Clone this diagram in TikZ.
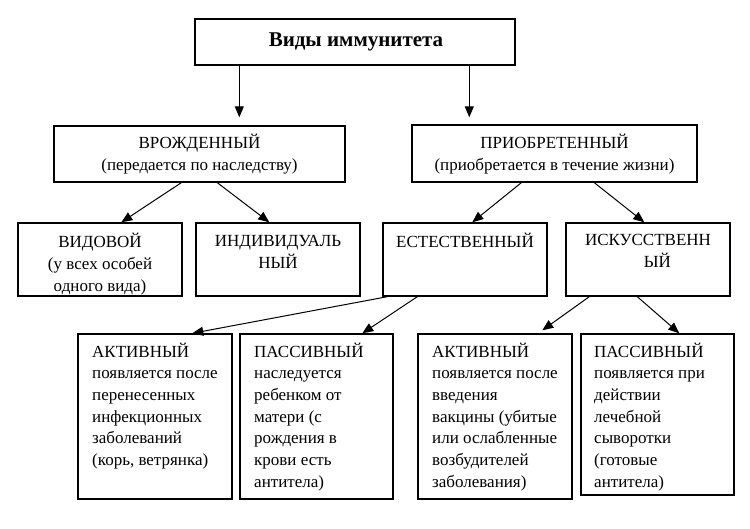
\documentclass[tikz,border=0pt]{standalone}
\usepackage{fontspec}
\setmainfont{Liberation Serif}
\usetikzlibrary{arrows.meta,calc}
\begin{document}
\begin{tikzpicture}[x=1pt,y=-1pt,
  box/.style={draw, line width=1.4pt, inner sep=0pt},
  txt/.style={inner sep=0pt, font=\fontsize{17}{22}\selectfont, align=center, anchor=base},
  body/.style={inner sep=0pt, font=\fontsize{17}{21.7}\selectfont, align=left, anchor=base west},
  arr/.style={line width=1pt, -{Triangle[length=11pt,width=9pt]}}]
\useasboundingbox (0,0) rectangle (750,529);
\fill[white] (0,0) rectangle (750,529);

% boxes
\node[box, minimum width=320pt, minimum height=46pt] (top) at (355,42) {};
\node[box, minimum width=291pt, minimum height=56pt] (vrozh) at (199.5,154) {};
\node[box, minimum width=285pt, minimum height=57pt] (priob) at (554.5,153.5) {};
\node[box, minimum width=164pt, minimum height=73pt] (vid) at (100,259.5) {};
\node[box, minimum width=164pt, minimum height=73pt] (indiv) at (278,259.5) {};
\node[box, minimum width=164pt, minimum height=73pt] (estest) at (465,259.5) {};
\node[box, minimum width=164pt, minimum height=73pt] (iskus) at (648,259.5) {};
\node[box, minimum width=154pt, minimum height=165pt] (akt1) at (155,416.5) {};
\node[box, minimum width=153pt, minimum height=165pt] (pas1) at (316.5,416.5) {};
\node[box, minimum width=154pt, minimum height=165pt] (akt2) at (495,416.5) {};
\node[box, minimum width=153pt, minimum height=161pt] (pas2) at (657.5,414.5) {};

% texts (base anchor = baseline of the last line)
\node[inner sep=0pt, anchor=base, font=\bfseries\fontsize{21}{25}\selectfont] (toptxt) at (356,47) {Виды иммунитета};
\node[txt] (vrozhtxt) at (199.5,171) {ВРОЖДЕННЫЙ\\(передается по наследству)};
\node[txt] (priobtxt) at (554.5,171) {ПРИОБРЕТЕННЫЙ\\(приобретается в течение жизни)};
\node[txt] (vidtxt) at (100,292) {ВИДОВОЙ\\(у всех особей\\одного вида)};
\node[txt] (indivtxt) at (278,269) {ИНДИВИДУАЛЬ\\НЫЙ};
\node[txt] (estesttxt) at (465,248) {ЕСТЕСТВЕННЫЙ};
\node[txt] (iskustxt) at (648,268) {ИСКУССТВЕНН\\\hspace*{1.1em}ЫЙ};

\node[body] (akt1txt) at (92,465.5) {АКТИВНЫЙ\\появляется после\\перенесенных\\инфекционных\\заболеваний\\(корь, ветрянка)};
\node[body] (pas1txt) at (254,487.2) {ПАССИВНЫЙ\\наследуется\\ребенком от\\матери (с\\рождения в\\крови есть\\антитела)};
\node[body] (akt2txt) at (432,487.2) {АКТИВНЫЙ\\появляется после\\введения\\вакцины (убитые\\или ослабленные\\возбудителей\\заболевания)};
\node[body] (pas2txt) at (594,487.2) {ПАССИВНЫЙ\\появляется при\\действии\\лечебной\\сыворотки\\(готовые\\антитела)};

% arrows
\draw[arr] ($(top.south west)+(45,0)$) -- ($(vrozh.north west)+(186,-8)$);
\draw[arr] ($(top.south west)+(275,0)$) -- ($(priob.north west)+(58,-7)$);
\draw[arr] ($(vrozh.south west)+(128,0)$) -- ($(vid.north west)+(104,0)$);
\draw[arr] ($(vrozh.south west)+(164,0)$) -- ($(indiv.north west)+(74,0)$);
\draw[arr] ($(priob.south west)+(110,0)$) -- ($(estest.north west)+(90,0)$);
\draw[arr] ($(priob.south west)+(183,0)$) -- ($(iskus.north west)+(79,0)$);
\draw[arr] ($(estest.south west)+(5,0)$) -- ($(akt1.north west)+(115,0)$);
\draw[arr] ($(estest.south west)+(35,0)$) -- ($(pas1.north west)+(123,0)$);
\draw[arr] ($(iskus.south west)+(24,0)$) -- ($(akt2.north west)+(125,-3)$);
\draw[arr] ($(iskus.south west)+(72,0)$) -- ($(pas2.north west)+(99,0)$);
\end{tikzpicture}
\end{document}
